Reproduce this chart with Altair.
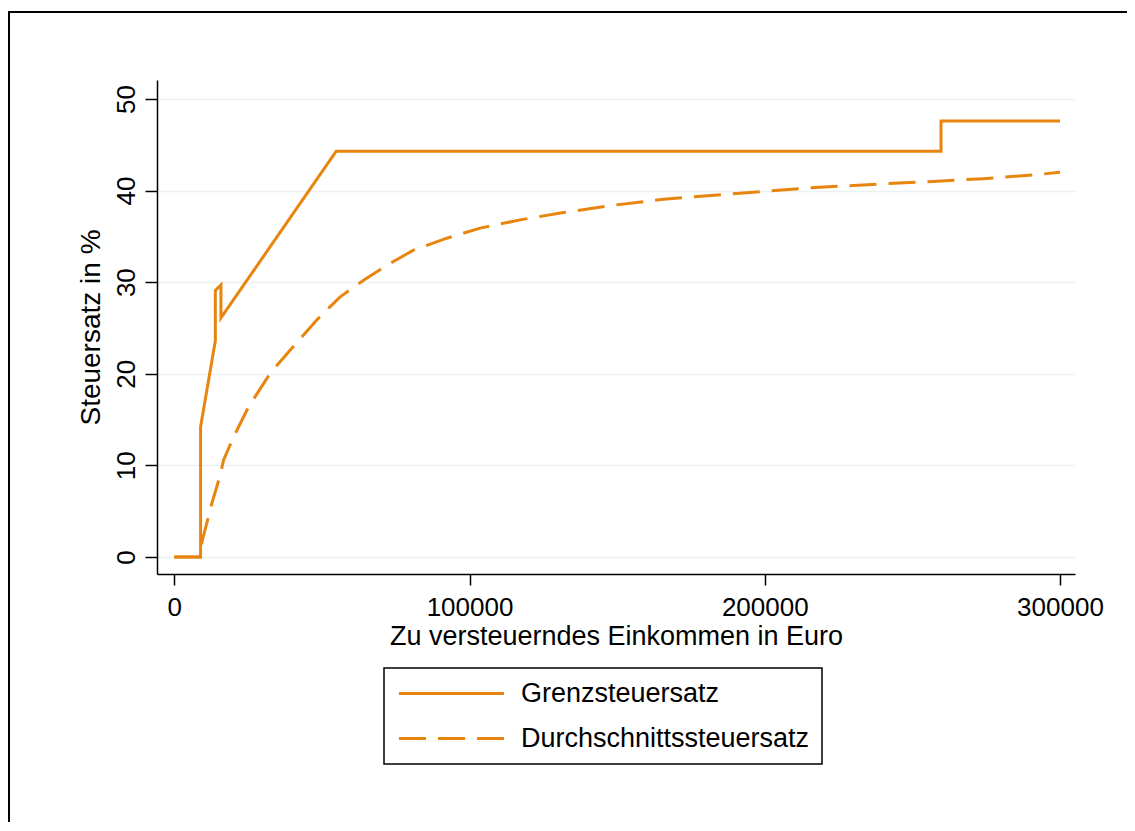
import altair as alt
import pandas as pd

# --- data ---
grenz_x = [0, 8900, 8900, 13900, 13900, 15800, 15800, 54850, 259700, 259700, 300000]
grenz_y = [0, 0, 14.2, 23.6, 29.1, 29.7, 26.1, 44.3, 44.3, 47.6, 47.6]

durch_x = [0, 8900, 9400, 12760, 15580, 16700, 20080, 25160, 32500, 39280, 48320,
           56200, 64100, 73140, 81030, 92330, 103600, 117150, 131800, 148750,
           165700, 187150, 215350, 237940, 257100, 274000, 291000, 300000]
durch_y = [0, 0, 1.7, 5.9, 8.95, 10.6, 13.1, 16.4, 20.05, 22.6, 25.9,
           28.4, 30.2, 32.06, 33.5, 34.8, 35.9, 36.8, 37.6, 38.4,
           39.05, 39.6, 40.3, 40.7, 41.0, 41.3, 41.7, 42.0]

series_names = ["Grenzsteuersatz", "Durchschnittssteuersatz"]
x_ticks = [0, 100000, 200000, 300000]
y_ticks = [0, 10, 20, 30, 40, 50]

rows = []
for i, (x, y) in enumerate(zip(grenz_x, grenz_y)):
    rows.append({"einkommen": x, "satz": y, "serie": series_names[0], "ord": i})
for i, (x, y) in enumerate(zip(durch_x, durch_y)):
    rows.append({"einkommen": x, "satz": y, "serie": series_names[1], "ord": i})
df = pd.DataFrame(rows)

ORANGE = "#e8850e"
FONT = "Liberation Sans"
W, H = 918, 494

lines = alt.Chart(df).mark_line(strokeWidth=3, clip=True).encode(
    x=alt.X("einkommen:Q",
            scale=alt.Scale(domain=[-5860, 305085], nice=False, zero=False),
            axis=alt.Axis(values=x_ticks, format="d", grid=False, tickSize=11,
                          labelPadding=9, labelFontSize=26, labelFont=FONT,
                          labelColor="#000000", title="Zu versteuerndes Einkommen in Euro",
                          titleFontSize=27, titleFont=FONT, titleFontWeight="normal",
                          titleColor="#000000", titlePadding=3,
                          domainColor="#000000", domainWidth=1.5,
                          tickColor="#000000", tickWidth=1.5, labelFlush=False)),
    y=alt.Y("satz:Q",
            scale=alt.Scale(domain=[-1.86, 52.07], nice=False, zero=False),
            axis=alt.Axis(values=y_ticks, grid=True, gridColor="#eaf2f3", gridWidth=1.5,
                          tickSize=12, labelAngle=270, labelAlign="center",
                          labelBaseline="bottom", labelPadding=6, labelFontSize=26,
                          labelFont=FONT, labelColor="#000000",
                          title="Steuersatz in %", titleFontSize=28, titleFont=FONT,
                          titleFontWeight="normal", titleColor="#000000", titlePadding=8,
                          domainColor="#000000", domainWidth=1.5,
                          tickColor="#000000", tickWidth=1.5, labelFlush=False)),
    color=alt.Color("serie:N",
                    scale=alt.Scale(domain=series_names, range=[ORANGE, ORANGE]),
                    legend=alt.Legend(title=None)),
    strokeDash=alt.StrokeDash("serie:N",
                              scale=alt.Scale(domain=series_names, range=[[1, 0], [27, 12]]),
                              legend=alt.Legend(title=None)),
    order="ord:Q",
)

frame_top = alt.Chart(df).mark_rule(color="#000000", strokeWidth=2).encode(
    x=alt.value(-149), x2=alt.value(W + 52), y=alt.value(-68))
frame_left = alt.Chart(df).mark_rule(color="#000000", strokeWidth=2).encode(
    x=alt.value(-148), y=alt.value(-69), y2=alt.value(H + 248))

chart = alt.layer(lines, frame_top, frame_left).properties(
    width=W, height=H,
    autosize=alt.AutoSizeParams(type="none"),
    padding={"left": 149, "top": 72, "right": 52, "bottom": 248},
    background="#ffffff",
).configure_view(stroke=None).configure_legend(
    orient="none", legendX=227, legendY=588,
    strokeColor="#000000", strokeWidth=1.5, fillColor="#ffffff",
    padding=12, symbolType="M-1,0H9", symbolSize=441, symbolStrokeWidth=3,
    symbolFillColor="transparent",
    labelFontSize=27, labelFont=FONT, labelColor="#000000",
    labelOffset=98, rowPadding=17, labelLimit=600,
)

chart.save("out.html", embed_options={"renderer": "svg", "actions": False})
